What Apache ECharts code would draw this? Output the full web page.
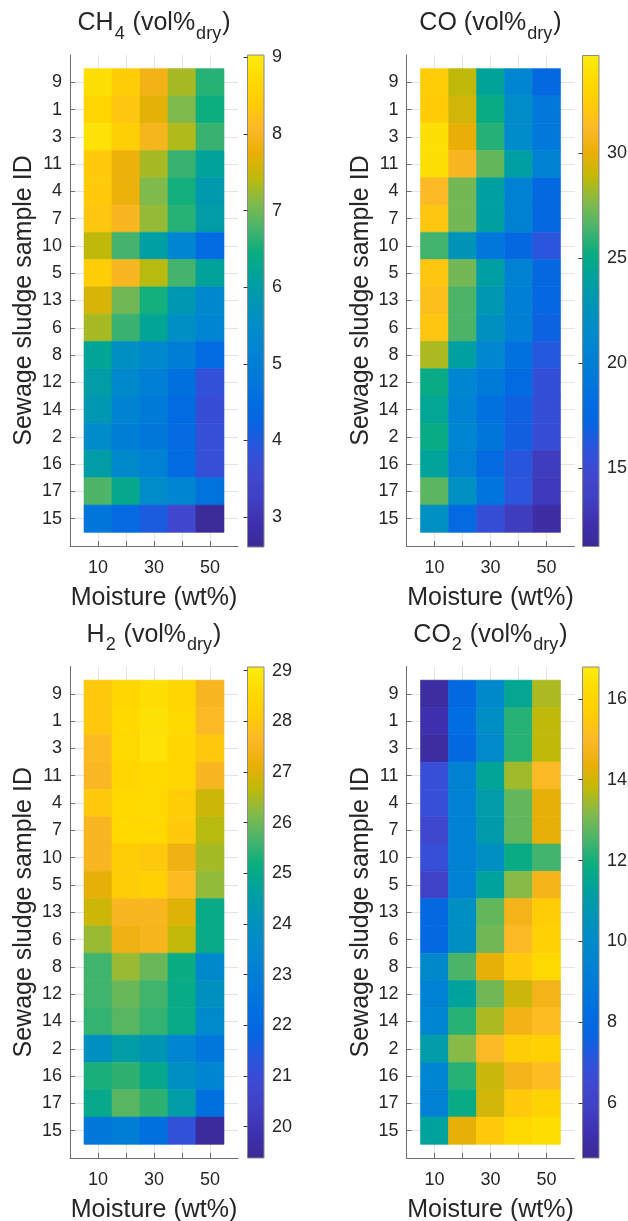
<!DOCTYPE html>
<html><head><meta charset="utf-8">
<script src="https://cdn.jsdelivr.net/npm/echarts@6/dist/echarts.min.js"></script>
<style>html,body{margin:0;padding:0;background:#fff}#c{width:628px;height:1221px}</style>
</head><body><div id="c"></div>
<script>
// ---- data ----
const sampleIds = ['9','1','3','11','4','7','10','5','13','6','8','12','14','2','16','17','15'];
const moisture = [10, 20, 30, 40, 50];
const xTickLabels = [10, 30, 50];

const ch4 = [
  [8.80, 8.40, 7.90, 7.30, 6.60],
  [8.60, 8.30, 7.70, 7.10, 6.45],
  [8.85, 8.45, 7.95, 7.35, 6.70],
  [8.35, 7.80, 7.30, 6.70, 6.15],
  [8.35, 7.80, 7.10, 6.50, 5.90],
  [8.30, 8.00, 7.20, 6.60, 6.00],
  [7.45, 6.75, 6.05, 5.25, 4.45],
  [8.40, 8.00, 7.40, 6.75, 6.15],
  [7.60, 7.00, 6.50, 5.85, 5.30],
  [7.30, 6.70, 6.20, 5.55, 5.25],
  [6.20, 5.60, 5.30, 5.00, 4.45],
  [6.00, 5.35, 5.05, 4.60, 3.80],
  [5.85, 5.15, 4.85, 4.45, 3.70],
  [5.45, 5.00, 4.80, 4.40, 3.75],
  [6.00, 5.35, 5.10, 4.45, 3.75],
  [6.80, 6.30, 5.50, 5.20, 4.70],
  [4.75, 4.40, 4.05, 3.50, 2.65]
];
const co = [
  [32.35, 28.85, 24.25, 20.90, 17.75],
  [32.30, 29.30, 25.00, 21.70, 19.30],
  [33.80, 29.95, 25.75, 21.60, 19.30],
  [33.80, 30.90, 26.95, 23.80, 20.40],
  [31.20, 27.30, 23.90, 20.40, 17.70],
  [31.90, 27.30, 23.90, 20.40, 17.70],
  [26.30, 22.70, 19.20, 17.70, 16.00],
  [31.90, 27.30, 23.80, 20.40, 17.60],
  [31.55, 26.50, 23.00, 20.20, 17.50],
  [31.90, 26.50, 22.30, 20.10, 16.95],
  [28.40, 23.90, 21.00, 18.60, 16.20],
  [25.00, 20.90, 19.40, 17.90, 15.50],
  [24.40, 20.50, 18.60, 16.90, 15.40],
  [25.00, 20.90, 19.10, 16.80, 15.30],
  [24.20, 20.30, 17.80, 16.10, 13.30],
  [26.80, 22.20, 19.00, 16.00, 13.20],
  [22.20, 17.80, 15.40, 13.30, 12.00]
];
const h2 = [
  [28.00, 28.45, 28.70, 28.45, 27.50],
  [28.00, 28.55, 28.75, 28.50, 27.65],
  [27.70, 28.50, 28.80, 28.45, 28.00],
  [27.55, 28.45, 28.55, 28.40, 27.50],
  [28.00, 28.55, 28.50, 28.15, 26.80],
  [27.50, 28.55, 28.50, 28.05, 26.60],
  [27.50, 28.15, 28.00, 27.30, 26.45],
  [27.10, 28.15, 28.25, 27.70, 26.30],
  [26.80, 27.50, 27.50, 27.00, 25.05],
  [26.35, 27.30, 27.45, 26.70, 25.05],
  [25.60, 26.35, 25.95, 25.10, 23.50],
  [25.60, 25.95, 25.60, 25.05, 23.95],
  [25.50, 25.80, 25.50, 25.05, 23.60],
  [23.90, 24.50, 24.20, 23.30, 22.65],
  [25.30, 25.45, 24.95, 23.90, 23.30],
  [25.00, 25.80, 25.45, 24.50, 22.35],
  [22.70, 22.95, 22.35, 21.20, 19.50]
];
const co2 = [
  [4.90, 8.00, 9.80, 11.55, 13.55],
  [5.20, 8.30, 10.20, 12.20, 13.80],
  [4.90, 8.00, 9.90, 12.20, 13.80],
  [6.75, 9.40, 11.40, 13.45, 15.00],
  [6.75, 9.35, 11.00, 12.80, 14.30],
  [6.40, 9.35, 10.90, 12.80, 14.30],
  [6.80, 9.35, 10.30, 11.80, 12.45],
  [6.10, 9.30, 11.30, 13.20, 14.70],
  [8.00, 10.30, 12.80, 14.70, 15.60],
  [8.00, 10.30, 12.95, 15.00, 15.75],
  [9.80, 12.55, 14.30, 15.50, 16.10],
  [9.30, 11.30, 12.95, 13.95, 14.70],
  [9.60, 12.20, 13.55, 14.65, 15.10],
  [11.00, 13.20, 15.00, 15.60, 15.80],
  [9.60, 12.20, 13.90, 14.70, 15.10],
  [9.30, 11.80, 14.00, 15.50, 15.90],
  [11.30, 14.30, 15.50, 16.10, 16.30]
];

// colour-bar limits and tick labels
const ch4Range = [2.61, 9.03];
const coRange = [11.27, 34.63];
const h2Range = [19.38, 29.07];
const co2Range = [4.64, 16.79];
const ch4Ticks = [3, 4, 5, 6, 7, 8, 9];
const coTicks = [15, 20, 25, 30];
const h2Ticks = [20, 21, 22, 23, 24, 25, 26, 27, 28, 29];
const co2Ticks = [6, 8, 10, 12, 14, 16];

// parula-like colormap (evenly spaced)
const parula = ['#3A2A96','#3E30AE','#4040C4','#4048D0','#2C54DC','#0864E2','#006EE0','#007AD9',
  '#0084D2','#008CC8','#0096B4','#00A29C','#0CAE7E','#4AB46A','#82BA4C','#BEBA0A',
  '#EAAF06','#FCB828','#FFCC06','#FFDA00','#FAEC10'];

// ---- layout ----
const FONT = "'Liberation Sans', Arial, Helvetica, sans-serif";
const TXT = '#262626';
const AX = '#707070';
const GRIDC = '#e4e4e4';

const panels = [
  {title: '{n|CH}{s|4}{n| (vol%}{s|dry}{n|)}', values: ch4, range: ch4Range, ticks: ch4Ticks,
   grid: {left: 70, top: 55, width: 168, height: 491}, bar: {left: 247.5, top: 55, width: 16.5, height: 492}, tx: 154, ty: 11},
  {title: '{n|CO (vol%}{s|dry}{n|)}', values: co, range: coRange, ticks: coTicks,
   grid: {left: 406.5, top: 55, width: 168, height: 491}, bar: {left: 582.5, top: 55.5, width: 16.5, height: 491}, tx: 490.5, ty: 11},
  {title: '{n|H}{s|2}{n| (vol%}{s|dry}{n|)}', values: h2, range: h2Range, ticks: h2Ticks,
   grid: {left: 70, top: 666.5, width: 168, height: 491.5}, bar: {left: 247.5, top: 667, width: 16.5, height: 491}, tx: 154, ty: 622.5},
  {title: '{n|CO}{s|2}{n| (vol%}{s|dry}{n|)}', values: co2, range: co2Range, ticks: co2Ticks,
   grid: {left: 406.5, top: 666.5, width: 168, height: 491.5}, bar: {left: 582.5, top: 667, width: 16.5, height: 491}, tx: 490.5, ty: 622.5}
];

const rowIdx = sampleIds.map((_, i) => i + 1);

function heatItem(params, api) {
  const p = api.coord([api.value(0), api.value(1)]);
  const s = api.size([10, 1]);
  const c = api.visual('color');
  return {type: 'rect', shape: {x: p[0] - s[0] / 2, y: p[1] - s[1] / 2, width: s[0], height: s[1]},
          style: {fill: c, stroke: c, lineWidth: 0.6}};
}
function barItem(params, api) {
  const lo = api.coord([0, api.value(0)]);
  const hi = api.coord([1, api.value(1)]);
  const stops = parula.map((c, i) => ({offset: i / (parula.length - 1), color: c}));
  return {type: 'rect', shape: {x: lo[0], y: hi[1], width: hi[0] - lo[0], height: lo[1] - hi[1]},
          style: {fill: new echarts.graphic.LinearGradient(0, 1, 0, 0, stops), stroke: '#8a8a8a', lineWidth: 1}};
}

const option = {
  animation: false,
  backgroundColor: '#fff',
  textStyle: {fontFamily: FONT, color: TXT},
  title: [], grid: [], xAxis: [], yAxis: [], visualMap: [], series: []
};

panels.forEach((p, i) => {
  option.title.push({
    text: p.title, left: p.tx, top: p.ty, textAlign: 'center', padding: 0,
    textStyle: {fontWeight: 'normal', rich: {
      n: {fontFamily: FONT, fontSize: 25, fontWeight: 'normal', color: TXT, verticalAlign: 'top'},
      s: {fontFamily: FONT, fontSize: 18, fontWeight: 'normal', color: TXT, verticalAlign: 'top', padding: [14, 1, 0, 1]}
    }}
  });
  option.grid.push(Object.assign({outerBoundsMode: 'none'}, p.grid));
  option.grid.push(Object.assign({outerBoundsMode: 'none'}, p.bar));
  const gh = 2 * i, gb = 2 * i + 1;
  option.xAxis.push({
    type: 'value', gridIndex: gh, min: 0, max: 60,
    name: 'Moisture (wt%)', nameLocation: 'middle', nameGap: 40,
    nameTextStyle: {fontFamily: FONT, fontSize: 25, color: TXT},
    axisLine: {show: true, onZero: false, lineStyle: {color: AX, width: 1}},
    axisTick: {show: true, inside: true, length: 5, customValues: moisture, lineStyle: {color: AX}},
    axisLabel: {customValues: xTickLabels, fontFamily: FONT, fontSize: 18, color: TXT, margin: 13},
    splitLine: {show: true, lineStyle: {color: GRIDC, width: 1}}
  });
  option.yAxis.push({
    type: 'value', gridIndex: gh, min: 0, max: 18, inverse: true,
    name: 'Sewage sludge sample ID', nameLocation: 'middle', nameGap: 33, nameRotate: 90,
    nameTextStyle: {fontFamily: FONT, fontSize: 25, color: TXT},
    axisLine: {show: true, onZero: false, lineStyle: {color: AX, width: 1}},
    axisTick: {show: true, inside: true, length: 5, customValues: rowIdx, lineStyle: {color: AX}},
    axisLabel: {customValues: rowIdx, formatter: v => sampleIds[Math.round(v) - 1] || '',
                fontFamily: FONT, fontSize: 18, color: TXT, margin: 8},
    splitLine: {show: true, lineStyle: {color: GRIDC, width: 1}}
  });
  option.xAxis.push({type: 'value', gridIndex: gb, min: 0, max: 1, show: false});
  option.yAxis.push({
    type: 'value', gridIndex: gb, min: p.range[0], max: p.range[1], position: 'right', z: 10,
    axisLine: {show: false},
    axisTick: {show: true, inside: true, length: 4, customValues: p.ticks, lineStyle: {color: '#3a3a3a'}},
    axisLabel: {customValues: p.ticks, fontFamily: FONT, fontSize: 18, color: TXT, margin: 8},
    splitLine: {show: false}
  });
  const data = [];
  p.values.forEach((row, r) => row.forEach((v, c) => data.push([moisture[c], r + 1, v])));
  option.series.push({
    type: 'custom', name: 'heat' + i, xAxisIndex: gh, yAxisIndex: gh,
    renderItem: heatItem, data: data, encode: {x: 0, y: 1}, z: 2
  });
  option.visualMap.push({
    type: 'continuous', show: false, seriesIndex: option.series.length - 1, dimension: 2,
    min: p.range[0], max: p.range[1], inRange: {color: parula}
  });
  option.series.push({
    type: 'custom', name: 'bar' + i, xAxisIndex: gb, yAxisIndex: gb,
    renderItem: barItem, data: [[p.range[0], p.range[1]]], z: 2
  });
});

const chart = echarts.init(document.getElementById('c'), null, {renderer: 'canvas'});
chart.setOption(option);
</script></body></html>
